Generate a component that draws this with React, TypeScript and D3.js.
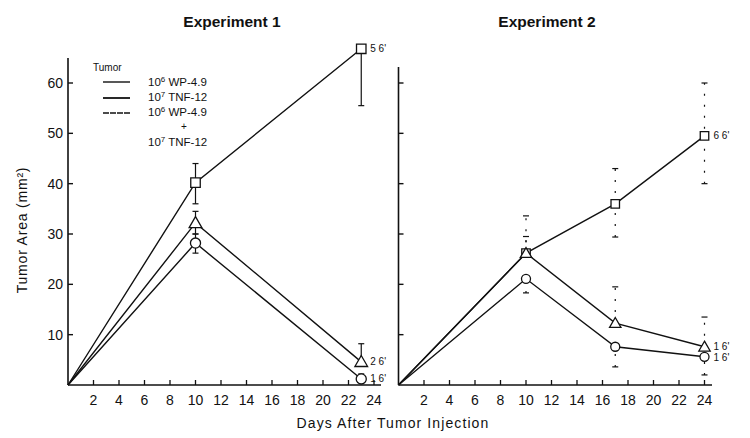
import React from "react";
import * as d3 from "d3";

// ---------- data ----------
const exp1Days = [0, 10, 23];
const exp1Square = [0, 40.2, 66.8];
const exp1Triangle = [0, 32.2, 4.6];
const exp1Circle = [0, 28.2, 1.2];
const exp1SquareLo = [null, 36, 55.5];
const exp1SquareHi = [null, 44, 66.8];
const exp1TriangleLo = [null, 30, 4.6];
const exp1TriangleHi = [null, 34.5, 8.2];
const exp1CircleLo = [null, 26.2, 0.6];
const exp1CircleHi = [null, 30, 2.2];
const exp1EndLabels = ["5 6'", "2 6'", "1 6'"];

const exp2Days = [0, 10, 17, 24];
const exp2Square = [0, 26.2, 36, 49.5];
const exp2Triangle = [0, 26.2, 12.3, 7.6];
const exp2Circle = [0, 21.1, 7.6, 5.6];
const exp2SquareLo = [null, 26.2, 29.4, 40];
const exp2SquareHi = [null, 33.6, 43, 60];
const exp2TriangleLo = [null, 26.2, 12.3, 7.6];
const exp2TriangleHi = [null, 29.5, 19.5, 13.5];
const exp2CircleLo = [null, 18.3, 3.6, 2];
const exp2CircleHi = [null, 21.1, 7.6, 5.6];
const exp2EndLabels = ["6 6'", "1 6'", "1 6'"];

const xTicks = [2, 4, 6, 8, 10, 12, 14, 16, 18, 20, 22, 24];
const yTicks = [10, 20, 30, 40, 50, 60];

const titles = ["Experiment 1", "Experiment 2"];
const legendTitle = "Tumor";

const FONT = "'Liberation Sans', Arial, Helvetica, sans-serif";
const INK = "#111";

type Panel = {
  days: number[];
  sq: number[]; tr: number[]; ci: number[];
  sqLo: (number | null)[]; sqHi: (number | null)[];
  trLo: (number | null)[]; trHi: (number | null)[];
  ciLo: (number | null)[]; ciHi: (number | null)[];
  labels: string[];
  x0: number; x1: number; axisEnd: number; yTop: number;
  showYLabels: boolean; dashedErr: boolean; title: string; titleX: number; mk: number;
};

const panels: Panel[] = [
  {
    days: exp1Days, sq: exp1Square, tr: exp1Triangle, ci: exp1Circle,
    sqLo: exp1SquareLo, sqHi: exp1SquareHi, trLo: exp1TriangleLo, trHi: exp1TriangleHi,
    ciLo: exp1CircleLo, ciHi: exp1CircleHi, labels: exp1EndLabels,
    x0: 68, x1: 374, axisEnd: 381, yTop: 58, showYLabels: true, dashedErr: false,
    title: titles[0], titleX: 232, mk: 1,
  },
  {
    days: exp2Days, sq: exp2Square, tr: exp2Triangle, ci: exp2Circle,
    sqLo: exp2SquareLo, sqHi: exp2SquareHi, trLo: exp2TriangleLo, trHi: exp2TriangleHi,
    ciLo: exp2CircleLo, ciHi: exp2CircleHi, labels: exp2EndLabels,
    x0: 398.5, x1: 704.5, axisEnd: 712, yTop: 67, showYLabels: false, dashedErr: true,
    title: titles[1], titleX: 547, mk: 0.8,
  },
];

const y = d3.scaleLinear().domain([0, 60]).range([385, 83]);

function PanelView({ p }: { p: Panel }) {
  const x = d3.scaleLinear().domain([0, 24]).range([p.x0, p.x1]);
  const line = d3.line<[number, number]>().x((d) => x(d[0])).y((d) => y(d[1]));
  const series = [
    { v: p.sq, lo: p.sqLo, hi: p.sqHi, shape: "square" },
    { v: p.tr, lo: p.trLo, hi: p.trHi, shape: "triangle" },
    { v: p.ci, lo: p.ciLo, hi: p.ciHi, shape: "circle" },
  ];
  const sym = {
    square: d3.symbol().type(d3.symbolSquare).size(90 * p.mk)(),
    triangle: d3.symbol().type(d3.symbolTriangle).size(70 * p.mk)(),
    circle: d3.symbol().type(d3.symbolCircle).size(80 * p.mk)(),
  } as Record<string, string>;
  const last = p.days.length - 1;
  return (
    <g>
      <text x={p.titleX} y={27} textAnchor="middle" fontFamily={FONT} fontWeight="bold" fontSize={15.5} fill={INK}>
        {p.title}
      </text>
      {/* axes */}
      <line x1={p.x0} x2={p.x0} y1={p.yTop} y2={y(0)} stroke={INK} strokeWidth={1.6} />
      <line x1={p.x0} x2={p.axisEnd} y1={y(0)} y2={y(0)} stroke={INK} strokeWidth={1.6} />
      {yTicks.map((t) => (
        <g key={"y" + t}>
          <line x1={p.x0} x2={p.x0 + 5} y1={y(t)} y2={y(t)} stroke={INK} strokeWidth={1.4} />
          {p.showYLabels && (
            <text x={p.x0 - 5} y={y(t) + 5} textAnchor="end" fontFamily={FONT} fontSize={14} fill={INK}>
              {t}
            </text>
          )}
        </g>
      ))}
      {xTicks.map((t) => (
        <g key={"x" + t}>
          <line x1={x(t)} x2={x(t)} y1={y(0)} y2={y(0) - 5} stroke={INK} strokeWidth={1.3} />
          <text x={x(t)} y={y(0) + 20} textAnchor="middle" fontFamily={FONT} fontSize={14} fill={INK}>
            {t}
          </text>
        </g>
      ))}
      {/* error bars */}
      {series.map((s, si) =>
        p.days.map((d, i) => {
          const lo = s.lo[i];
          const hi = s.hi[i];
          if (lo == null || hi == null) return null;
          const cx = x(d);
          return (
            <g key={`e${si}-${i}`}>
              <line x1={cx} x2={cx} y1={y(lo)} y2={y(hi)} stroke={INK} strokeWidth={1.2}
                strokeDasharray={p.dashedErr ? "2,9" : undefined} />
              {hi !== s.v[i] && <line x1={cx - 3} x2={cx + 3} y1={y(hi)} y2={y(hi)} stroke={INK} strokeWidth={1.2} />}
              {lo !== s.v[i] && <line x1={cx - 3} x2={cx + 3} y1={y(lo)} y2={y(lo)} stroke={INK} strokeWidth={1.2} />}
            </g>
          );
        })
      )}
      {/* lines */}
      {series.map((s, si) => (
        <path key={"l" + si} d={line(p.days.map((d, i) => [d, s.v[i]]) as [number, number][]) || ""}
          fill="none" stroke={INK} strokeWidth={1.4} />
      ))}
      {/* markers */}
      {series.map((s, si) =>
        p.days.map((d, i) =>
          i === 0 ? null : (
            <path key={`m${si}-${i}`} d={sym[s.shape]} transform={`translate(${x(d)},${y(s.v[i]) + (s.shape === "triangle" ? 1 : 0)})`}
              fill="#fff" stroke={INK} strokeWidth={1.3} />
          )
        )
      )}
      {/* end labels */}
      {series.map((s, si) => (
        <text key={"t" + si} x={x(p.days[last]) + 9} y={y(s.v[last]) + 3.5 + (p.dashedErr && si === 2 ? 1 : 0)}
          fontFamily={FONT} fontSize={10} fill={INK}>
          {p.labels[si]}
        </text>
      ))}
    </g>
  );
}

function Sup({ base, sup, rest, x0, yy }: { base: string; sup: string; rest: string; x0: number; yy: number }) {
  return (
    <text x={x0} y={yy} fontFamily={FONT} fontSize={11.5} fill={INK}>
      {base}
      <tspan dy={-4} fontSize={8}>{sup}</tspan>
      <tspan dy={4}>{" " + rest}</tspan>
    </text>
  );
}

export default function App() {
  return (
    <svg width={750} height={438} style={{ position: "absolute", left: 0, top: 0, background: "#fff" }}>
      <rect width={750} height={438} fill="#fff" />
      {panels.map((p, i) => (
        <PanelView key={i} p={p} />
      ))}
      {/* legend */}
      <text x={93} y={71} fontFamily={FONT} fontSize={10} fill={INK}>{legendTitle}</text>
      <line x1={103} x2={130} y1={82} y2={82} stroke={INK} strokeWidth={1.4} />
      <line x1={103} x2={130} y1={98} y2={98} stroke={INK} strokeWidth={1.8} />
      <line x1={103} x2={130} y1={113} y2={113} stroke={INK} strokeWidth={1.4} strokeDasharray="6,1" />
      <Sup base="10" sup="6" rest="WP-4.9" x0={148} yy={86} />
      <Sup base="10" sup="7" rest="TNF-12" x0={148} yy={101} />
      <Sup base="10" sup="6" rest="WP-4.9" x0={148} yy={116} />
      <text x={184} y={130} textAnchor="middle" fontFamily={FONT} fontSize={10} fill={INK}>+</text>
      <Sup base="10" sup="7" rest="TNF-12" x0={148} yy={146} />
      {/* axis titles */}
      <text transform="translate(27,230) rotate(-90)" textAnchor="middle" fontFamily={FONT} fontSize={14} letterSpacing={0.8} fill={INK}>
        Tumor Area (mm²)
      </text>
      <text x={393} y={428} textAnchor="middle" fontFamily={FONT} fontSize={14} letterSpacing={1.1} fill={INK}>
        Days After Tumor Injection
      </text>
    </svg>
  );
}
